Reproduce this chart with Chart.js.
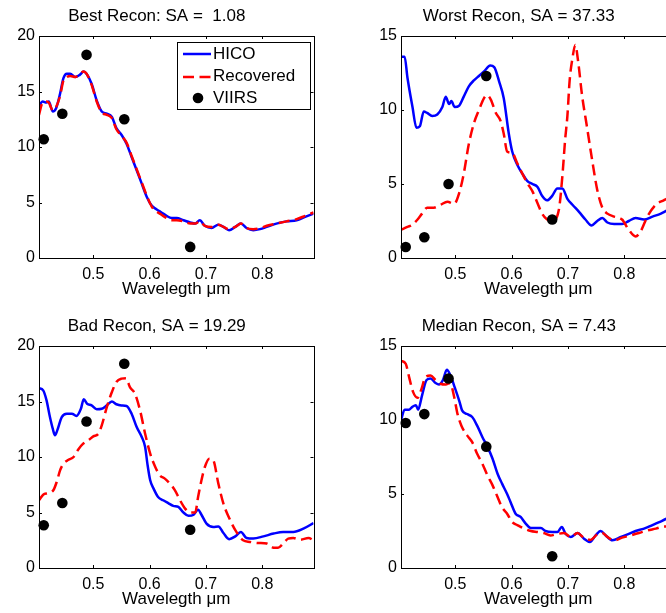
<!DOCTYPE html>
<html>
<head>
<meta charset="utf-8">
<script src="https://cdn.jsdelivr.net/npm/chart.js@4.4.0/dist/chart.umd.min.js"></script>
<style>
    html, body { margin: 0; padding: 0; background: #fff; overflow: hidden; }
    #figure { position: relative; width: 666px; height: 613px; overflow: hidden; background: #fff; }
    #figure canvas { position: absolute; }
</style>
</head>
<body>
<div id="figure">
    <canvas id="bestChart" width="333" height="300" style="left:0;top:0"></canvas>
    <canvas id="worstChart" width="333" height="300" style="left:362px;top:0"></canvas>
    <canvas id="badChart" width="333" height="300" style="left:0;top:310px"></canvas>
    <canvas id="medianChart" width="333" height="300" style="left:362px;top:310px"></canvas>
</div>
<script>
// axis ticks
const xTicks = [0.5, 0.6, 0.7, 0.8];
const yTicks20 = [0, 5, 10, 15, 20];
const yTicks15 = [0, 5, 10, 15];
const xMin = 0.4036;
const xMax = 0.8909;

// VIIRS band centres (um)
const viirsWl = [0.412, 0.445, 0.488, 0.555, 0.672];

// Best Recon
const bestWl = [0.4036,0.410,0.417,0.421,0.428,0.434,0.441,0.447,0.453,0.459,0.468,0.476,0.483,0.488,0.497,0.506,0.515,0.524,0.533,0.541,0.550,0.559,0.568,0.577,0.586,0.595,0.604,0.612,0.621,0.630,0.639,0.648,0.660,0.672,0.681,0.689,0.698,0.710,0.722,0.731,0.741,0.752,0.762,0.772,0.784,0.796,0.808,0.825,0.843,0.861,0.876,0.891];
const bestHico = [13.7,14.1,14.0,14.1,13.2,13.5,14.8,16.2,16.6,16.6,16.3,16.5,16.8,16.6,15.7,14.2,13.2,13.0,12.7,11.7,11.1,10.3,9.1,7.9,6.7,5.5,4.7,4.4,4.1,3.8,3.6,3.6,3.4,3.2,3.1,3.4,2.9,2.7,3.0,2.8,2.5,2.8,3.1,2.7,2.5,2.6,2.8,3.1,3.3,3.4,3.7,4.0];
const bestRecovered = [12.9,14.0,14.1,14.0,13.3,13.6,14.6,16.0,16.3,16.4,16.3,16.6,16.8,16.6,15.6,14.1,13.1,12.9,12.6,11.6,11.0,10.4,9.2,8.0,6.8,5.6,4.6,4.2,3.9,3.6,3.4,3.4,3.3,3.1,3.1,3.3,2.9,2.8,3.0,2.8,2.6,2.8,3.1,2.7,2.6,2.7,2.9,3.1,3.3,3.5,3.8,4.1];
const bestViirs = [10.7, 13.0, 18.3, 12.5, 1.0];

// Worst Recon
const worstHicoWl = [0.4036,0.410,0.415,0.424,0.431,0.437,0.444,0.450,0.459,0.468,0.477,0.483,0.489,0.493,0.499,0.507,0.515,0.524,0.533,0.542,0.551,0.562,0.569,0.578,0.586,0.595,0.601,0.610,0.619,0.628,0.637,0.646,0.654,0.663,0.672,0.681,0.690,0.699,0.708,0.720,0.731,0.742,0.752,0.761,0.770,0.782,0.796,0.808,0.820,0.835,0.850,0.865,0.875,0.891];
const worstHico = [13.6,13.6,12.2,10.2,8.8,8.9,9.9,9.8,9.6,9.7,10.2,10.9,10.4,10.6,10.2,10.3,10.9,11.6,12.0,12.3,12.6,13.0,12.9,11.9,10.8,8.4,7.2,6.3,5.7,5.2,5.0,4.8,4.2,3.9,4.2,4.7,4.7,4.0,3.6,3.1,2.6,2.2,2.5,2.7,2.4,2.3,2.3,2.5,2.7,2.6,2.8,3.0,3.2,3.5];
const worstRecWl = [0.4036,0.415,0.424,0.433,0.441,0.450,0.462,0.474,0.486,0.498,0.507,0.515,0.524,0.533,0.542,0.551,0.556,0.563,0.572,0.580,0.586,0.592,0.601,0.610,0.619,0.628,0.637,0.646,0.654,0.663,0.672,0.684,0.690,0.695,0.699,0.703,0.708,0.713,0.718,0.725,0.734,0.743,0.752,0.761,0.770,0.782,0.796,0.808,0.820,0.829,0.841,0.856,0.870,0.875,0.891];
const worstRecovered = [1.9,2.1,2.25,2.6,3.0,3.4,3.4,3.6,3.8,3.66,4.4,5.7,7.7,9.1,10.0,10.8,11.0,10.7,9.8,9.3,8.4,7.2,7.1,6.4,5.7,5.05,4.5,3.7,3.0,2.6,2.5,3.3,5.5,8.0,9.6,12.0,13.5,14.4,13.3,11.0,8.8,6.6,4.6,3.4,3.0,2.8,2.6,1.9,1.46,1.8,2.8,3.6,3.9,4.0,4.2];
const worstViirs = [0.74, 1.4, 5.0, 12.3, 2.6];

// Bad Recon
const badHicoWl = [0.4036,0.411,0.417,0.423,0.428,0.432,0.436,0.444,0.453,0.462,0.470,0.478,0.483,0.489,0.497,0.506,0.515,0.524,0.533,0.541,0.550,0.559,0.568,0.577,0.586,0.592,0.596,0.601,0.607,0.615,0.624,0.633,0.642,0.651,0.660,0.669,0.678,0.686,0.692,0.701,0.713,0.722,0.731,0.741,0.752,0.762,0.772,0.784,0.802,0.820,0.837,0.855,0.873,0.891];
const badHico = [16.2,16.0,15.1,13.6,12.55,11.95,12.4,13.6,13.9,13.9,13.7,14.35,15.2,14.8,14.65,14.3,14.35,14.65,15.0,14.75,14.65,14.6,13.9,12.7,11.8,10.9,9.4,7.9,7.15,6.4,6.1,5.85,5.6,5.5,5.0,4.7,4.8,5.25,4.8,4.0,3.7,3.75,3.15,2.6,2.85,3.25,2.7,2.65,2.85,3.1,3.25,3.25,3.55,4.05];
const badRecWl = [0.4036,0.411,0.420,0.429,0.435,0.441,0.447,0.456,0.465,0.473,0.482,0.491,0.500,0.509,0.515,0.524,0.533,0.541,0.550,0.558,0.565,0.574,0.583,0.592,0.601,0.610,0.618,0.627,0.636,0.645,0.654,0.663,0.672,0.681,0.686,0.692,0.698,0.706,0.713,0.722,0.731,0.743,0.754,0.766,0.778,0.793,0.808,0.820,0.828,0.837,0.846,0.855,0.867,0.882,0.891];
const badRecovered = [6.1,6.6,6.75,7.0,7.75,8.8,9.4,9.75,10.0,10.66,11.2,11.5,11.86,12.1,12.85,14.5,15.85,16.76,17.06,17.1,16.3,15.7,14.2,12.1,10.3,9.1,8.35,8.05,7.6,7.0,6.1,5.35,5.0,5.0,6.4,7.9,9.1,9.85,9.7,7.6,5.8,4.3,3.25,2.5,2.35,2.25,2.2,1.83,1.83,2.2,2.65,2.7,2.55,2.7,2.5];
const badViirs = [3.85, 5.85, 13.2, 18.4, 3.45];

// Median Recon
const medianHicoWl = [0.4036,0.410,0.418,0.424,0.430,0.434,0.441,0.449,0.456,0.465,0.471,0.478,0.485,0.492,0.499,0.507,0.512,0.521,0.530,0.539,0.548,0.557,0.566,0.575,0.583,0.592,0.598,0.607,0.616,0.625,0.634,0.643,0.652,0.660,0.672,0.681,0.689,0.696,0.705,0.717,0.728,0.739,0.749,0.758,0.767,0.779,0.794,0.808,0.820,0.835,0.850,0.862,0.875,0.891];
const medianHico = [9.98,10.7,10.7,10.9,11.0,10.7,11.67,12.7,12.8,12.5,12.4,12.7,13.4,12.95,12.2,11.3,10.65,10.4,10.2,9.6,8.85,8.2,7.4,6.37,5.7,5.0,4.46,3.67,3.45,3.0,2.7,2.7,2.7,2.5,2.43,2.43,2.77,2.3,2.1,2.36,2.0,1.76,2.2,2.5,2.2,1.87,2.1,2.3,2.5,2.66,2.9,3.1,3.33,3.7];
const medianRecWl = [0.4036,0.412,0.418,0.425,0.433,0.440,0.447,0.456,0.465,0.474,0.483,0.491,0.498,0.504,0.511,0.521,0.530,0.539,0.548,0.557,0.566,0.575,0.583,0.592,0.601,0.610,0.622,0.634,0.646,0.657,0.669,0.681,0.693,0.705,0.717,0.728,0.740,0.752,0.761,0.770,0.782,0.796,0.811,0.826,0.841,0.856,0.870,0.891];
const medianRecovered = [14.0,13.8,12.9,11.9,11.5,12.1,12.9,13.0,12.7,12.45,12.4,12.5,11.55,10.4,9.6,8.96,8.5,7.7,7.05,6.26,5.6,4.8,4.1,3.67,3.1,2.9,2.66,2.5,2.43,2.36,2.2,2.3,2.36,2.1,2.36,2.05,1.9,2.27,2.36,2.1,1.87,2.05,2.2,2.36,2.54,2.66,2.8,2.8];
const medianViirs = [9.8, 10.4, 12.8, 8.2, 0.79];

const FONT = "'Liberation Sans', Arial, Helvetica, sans-serif";
Chart.defaults.font.family = FONT;
Chart.defaults.font.size = 16;
Chart.defaults.color = '#000';

function pairs(xs, ys) {
    return xs.map((x, i) => ({ x: x, y: ys[i] }));
}

// box round the axes with inward ticks on all four sides
const matlabAxes = {
    id: 'matlabAxes',
    afterDatasetsDraw(chart) {
        const { ctx, chartArea: a, scales } = chart;
        const len = 3;
        ctx.save();
        ctx.strokeStyle = '#000';
        ctx.lineWidth = 1;
        ctx.beginPath();
        scales.x.ticks.forEach(t => {
            const px = Math.round(scales.x.getPixelForValue(t.value)) + 0.5;
            ctx.moveTo(px, a.bottom); ctx.lineTo(px, a.bottom - len);
            ctx.moveTo(px, a.top); ctx.lineTo(px, a.top + len);
        });
        scales.y.ticks.forEach(t => {
            const py = Math.round(scales.y.getPixelForValue(t.value)) + 0.5;
            ctx.moveTo(a.left, py); ctx.lineTo(a.left + len, py);
            ctx.moveTo(a.right, py); ctx.lineTo(a.right - len, py);
        });
        ctx.stroke();
        ctx.strokeRect(Math.round(a.left) + 0.5, Math.round(a.top) + 0.5, Math.round(a.width), Math.round(a.height));
        ctx.restore();
    }
};

const boxLegend = {
    id: 'boxLegend',
    afterDraw(chart, args, opts) {
        if (!opts.show) return;
        const { ctx, chartArea: a } = chart;
        const w = 133, h = 67;
        const left = Math.round(a.right - 4 - w);
        const top = Math.round(a.top + 6);
        ctx.save();
        ctx.fillStyle = '#fff';
        ctx.fillRect(left, top, w, h);
        ctx.strokeStyle = '#000';
        ctx.lineWidth = 1;
        ctx.strokeRect(left + 0.5, top + 0.5, w, h);

        ctx.lineWidth = 2.5;
        ctx.strokeStyle = '#0000ff';
        ctx.beginPath();
        ctx.moveTo(left + 6, top + 12); ctx.lineTo(left + 34, top + 12);
        ctx.stroke();

        ctx.strokeStyle = '#ff0000';
        ctx.setLineDash([11, 5.5]);
        ctx.beginPath();
        ctx.moveTo(left + 6, top + 35); ctx.lineTo(left + 34, top + 35);
        ctx.stroke();
        ctx.setLineDash([]);

        ctx.fillStyle = '#000';
        ctx.beginPath();
        ctx.arc(left + 21, top + 56, 5.3, 0, Math.PI * 2);
        ctx.fill();

        ctx.font = '17px ' + FONT;
        ctx.textBaseline = 'middle';
        ctx.fillText('HICO', left + 36, top + 12);
        ctx.fillText('Recovered', left + 36, top + 34);
        ctx.fillText('VIIRS', left + 36, top + 56);
        ctx.restore();
    }
};

function makePanel(id, title, yMax, yTicks, hicoWl, hico, recWl, recovered, viirs, showLegend) {
    const ctx = document.getElementById(id).getContext('2d');
    new Chart(ctx, {
        type: 'line',
        data: {
            datasets: [{
                label: 'HICO',
                data: pairs(hicoWl, hico),
                borderColor: '#0000ff',
                borderWidth: 2.5,
                pointRadius: 0,
                cubicInterpolationMode: 'monotone',
                clip: 0,
                order: 3
            },
            {
                label: 'Recovered',
                data: pairs(recWl, recovered),
                borderColor: '#ff0000',
                borderWidth: 2.5,
                borderDash: [11, 5.5],
                pointRadius: 0,
                cubicInterpolationMode: 'monotone',
                clip: 0,
                order: 2
            },
            {
                label: 'VIIRS',
                data: pairs(viirsWl, viirs),
                showLine: false,
                pointRadius: 5.3,
                pointBackgroundColor: '#000',
                pointBorderWidth: 0,
                clip: false,
                order: 1
            }]
        },
        options: {
            responsive: false,
            animation: false,
            events: [],
            layout: { padding: { left: 0, right: 19.5, top: 0, bottom: 0 } },
            plugins: {
                legend: { display: false },
                tooltip: { enabled: false },
                title: {
                    display: true,
                    text: title,
                    color: '#000',
                    font: { size: 17, weight: 'normal' },
                    padding: { top: 6, bottom: 9.6 }
                },
                boxLegend: { show: showLegend }
            },
            scales: {
                x: {
                    type: 'linear',
                    min: xMin,
                    max: xMax,
                    grid: { display: false, drawTicks: false },
                    border: { display: false },
                    afterBuildTicks: scale => { scale.ticks = xTicks.map(v => ({ value: v })); },
                    afterFit: scale => { scale.height = 42; },
                    ticks: {
                        autoSkip: false,
                        maxRotation: 0,
                        padding: 7,
                        color: '#000',
                        callback: v => Number(v).toFixed(1)
                    },
                    title: {
                        display: true,
                        text: 'Wavelegth \u03bcm',
                        color: '#000',
                        font: { size: 17 },
                        padding: { top: 0, bottom: 0 }
                    }
                },
                y: {
                    min: 0,
                    max: yMax,
                    grid: { display: false, drawTicks: false },
                    border: { display: false },
                    afterBuildTicks: scale => { scale.ticks = yTicks.map(v => ({ value: v })); },
                    afterFit: scale => { scale.width = 39; },
                    ticks: {
                        autoSkip: false,
                        padding: 4,
                        color: '#000',
                        callback: v => String(v)
                    }
                }
            }
        },
        plugins: [matlabAxes, boxLegend]
    });
}

document.addEventListener('DOMContentLoaded', function() {
    makePanel('bestChart', 'Best Recon: SA =  1.08', 20, yTicks20, bestWl, bestHico, bestWl, bestRecovered, bestViirs, true);
    makePanel('worstChart', 'Worst Recon, SA = 37.33', 15, yTicks15, worstHicoWl, worstHico, worstRecWl, worstRecovered, worstViirs, false);
    makePanel('badChart', 'Bad Recon, SA = 19.29', 20, yTicks20, badHicoWl, badHico, badRecWl, badRecovered, badViirs, false);
    makePanel('medianChart', 'Median Recon, SA = 7.43', 15, yTicks15, medianHicoWl, medianHico, medianRecWl, medianRecovered, medianViirs, false);
});
</script>
</body>
</html>
